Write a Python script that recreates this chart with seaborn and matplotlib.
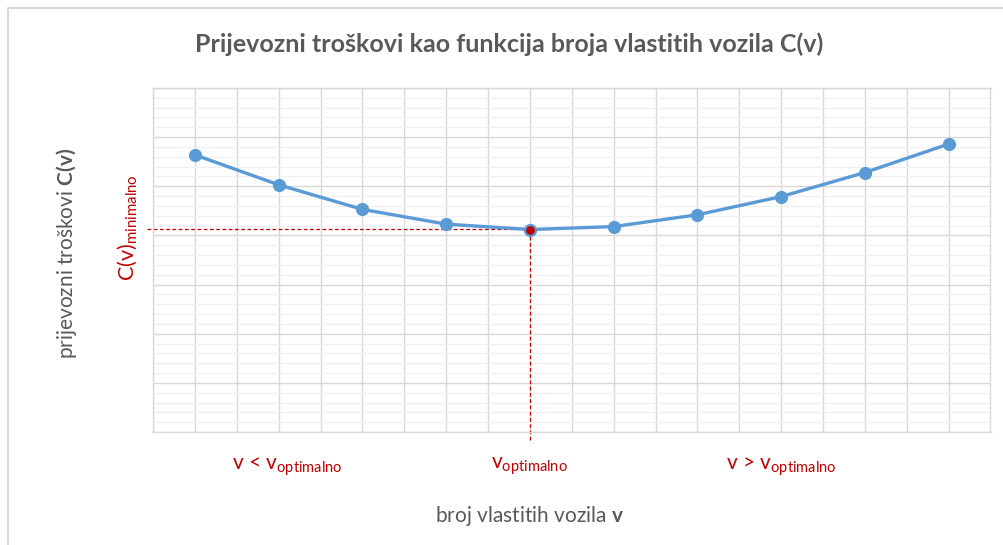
import numpy as np
import pandas as pd
import matplotlib.pyplot as plt
import matplotlib.lines as mlines
from matplotlib.ticker import MultipleLocator
import seaborn as sns

# values (y axis is unlabelled, 0..70)
vozila = [1, 2, 3, 4, 5, 6, 7, 8, 9, 10]
troskovi = [56.4, 50.3, 45.3, 42.3, 41.2, 41.8, 44.2, 47.9, 52.8, 58.6]
v_opt = 5
c_min = 41.2
region_x = [2.1, 5, 8]
region_lbl = ["v < v$_\\mathregular{optimalno}$",
              "v$_\\mathregular{optimalno}$",
              "v > v$_\\mathregular{optimalno}$"]

df = pd.DataFrame({"v": vozila, "C": troskovi})

blue = "#5B9BD5"
red = "#C00000"
grey = "#595959"
grid = "#D9D9D9"

sns.set_theme(style="whitegrid")
plt.rcParams["font.family"] = ["Lato", "DejaVu Sans"]
plt.rcParams["mathtext.fontset"] = "custom"
plt.rcParams["mathtext.rm"] = "Lato"
plt.rcParams["mathtext.bf"] = "Lato:bold"

f = plt.figure(figsize=(10.04, 5.45), dpi=100)
ax = f.add_axes([153 / 1004, 113 / 545, 837.5 / 1004, 344 / 545])

sns.lineplot(data=df, x="v", y="C", ax=ax, color=blue, linewidth=2.4,
             marker="o", markersize=9.5, markeredgewidth=0, zorder=3)
ax.plot([v_opt], [c_min], marker="o", markersize=7.5, color=red,
        markeredgecolor=blue, markeredgewidth=1.2, zorder=4)

ax.set_xlim(0.5, 10.5)
ax.set_ylim(0, 70)
ax.xaxis.set_major_locator(MultipleLocator(0.5))
ax.yaxis.set_major_locator(MultipleLocator(10))
ax.yaxis.set_minor_locator(MultipleLocator(2))
ax.grid(which="major", color=grid, linewidth=1.0)
ax.grid(which="minor", axis="y", color="#F0F0F0", linewidth=0.9)
ax.tick_params(which="both", length=0, labelbottom=False, labelleft=False)
for s in ax.spines.values():
    s.set_color(grid)
    s.set_linewidth(1.0)
ax.set_xlabel("")
ax.set_ylabel("")

# dashed guides to the minimum
ax.plot([0.425, v_opt], [c_min + 0.2, c_min + 0.2], color=red, linestyle="--",
        linewidth=0.9, dashes=(3, 2), clip_on=False, zorder=2)
ax.plot([v_opt, v_opt], [c_min, -2.0], color=red, linestyle="--",
        linewidth=0.9, dashes=(3, 2), clip_on=False, zorder=2)

for x, lbl in zip(region_x, region_lbl):
    ax.text(x, -7.0, lbl, color=red, fontsize=15, ha="center", va="center")

f.text(509 / 1004, 1 - 44 / 545, "Prijevozni troškovi kao funkcija broja vlastitih vozila C(v)",
       color=grey, fontsize=18, fontweight="bold", ha="center", va="center")
f.text(530 / 1004, 1 - 516 / 545, "broj vlastitih vozila $\\mathbf{v}$",
       color=grey, fontsize=15, ha="center", va="center")
f.text(67 / 1004, 1 - 253 / 545, "prijevozni troškovi $\\mathbf{C(v)}$",
       color=grey, fontsize=15, ha="center", va="center", rotation=90)
f.text(128 / 1004, 1 - 228 / 545, "C(v)$_\\mathregular{minimalno}$",
       color=red, fontsize=15.5, ha="center", va="center", rotation=90)

# chart area border (clipped on the right and bottom in the reference)
f.add_artist(mlines.Line2D([8 / 1004, 8 / 1004, 1.0], [0, 1 - 8 / 545, 1 - 8 / 545],
                           color=grid, linewidth=1.5))

plt.savefig("out.png", dpi=100)
